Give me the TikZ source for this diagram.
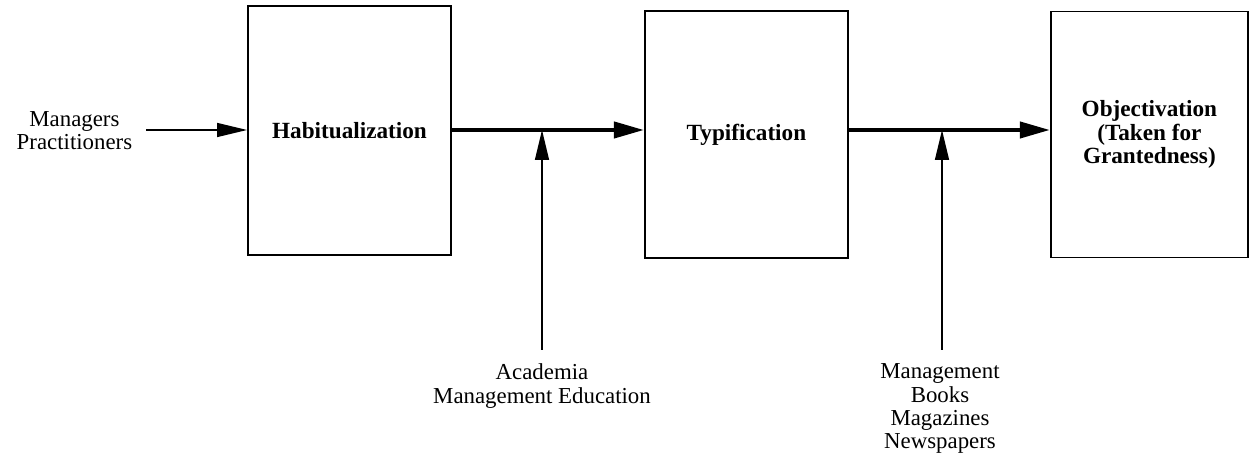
\documentclass[tikz,border=0pt]{standalone}
\usepackage{fontspec}
\setmainfont{Liberation Serif}
\usetikzlibrary{arrows.meta,positioning}

\begin{document}
\begin{tikzpicture}[
	stage/.style={draw, line width=1.1pt, minimum width=4.06cm, minimum height=4.94cm, align=center, inner sep=0pt, font=\bfseries\fontsize{13.2}{13.4}\selectfont},
	source/.style={align=center, inner sep=0.27cm, font=\fontsize{13}{13.3}\selectfont},
	feed/.style={line width=0.85pt, -{Triangle[length=0.6cm,width=0.28cm]}},
	flow/.style={line width=2.3pt, -{Triangle[length=0.6cm,width=0.32cm]}}
]
	\useasboundingbox (0,0) rectangle (25,9.1);
	\node[stage, minimum height=4.98cm] (habit) at (6.99,6.49) {Habitualization};
	\node[stage, right=3.84cm of habit, yshift=-0.08cm] (typ) {Typification};
	\node[stage, right=4.02cm of typ, minimum width=3.94cm, minimum height=4.92cm] (obj) {Objectivation\\(Taken for\\Grantedness)};
	\node[source, left=2.02cm of habit] (mgr) {Managers\\Practitioners};
	\node[source, anchor=north] (acad) at (10.84,2.1) {Academia\\Management Education};
	\node[source, anchor=north] (press) at (18.8,2.1) {Management\\Books\\Magazines\\Newspapers};
	\coordinate (j1) at (10.84,6.5);
	\coordinate (j2) at (18.84,6.5);
	\draw[feed] (mgr.east |- j1) -- (habit.west |- j1);
	\draw[flow] (habit.east |- j1) -- (typ.west |- j1);
	\draw[flow] (typ.east |- j2) -- (obj.west |- j2);
	\draw[feed] (acad) -- (j1);
	\draw[feed] (press.north -| j2) -- (j2);
\end{tikzpicture}
\end{document}
